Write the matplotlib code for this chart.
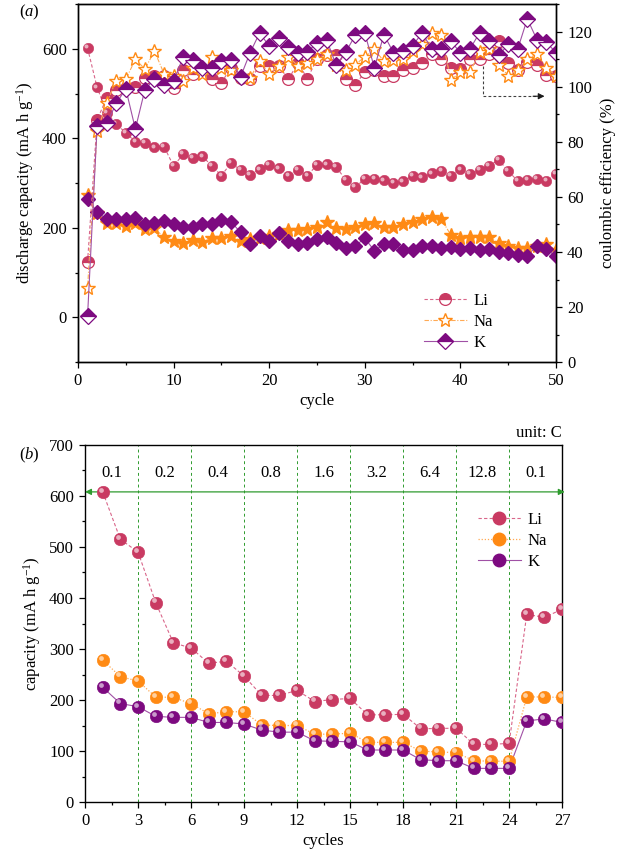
import numpy as np
import matplotlib
matplotlib.use('Agg')
import matplotlib.pyplot as plt
from matplotlib.transforms import offset_copy
from matplotlib.lines import Line2D
from matplotlib.ticker import MultipleLocator

plt.rcParams['font.family'] = ['Liberation Serif', 'DejaVu Serif']
plt.rcParams['mathtext.fontset'] = 'custom'
plt.rcParams['mathtext.rm'] = 'Liberation Serif'
plt.rcParams['mathtext.it'] = 'Liberation Serif:italic'
plt.rcParams['font.size'] = 12

# ---------------- data: panel (a) ----------------
cycles_a = list(range(1, 51))
li_dis = [602, 514, 458, 433, 412, 393, 390, 380, 382, 338, 365, 356, 360, 339, 317, 345, 330, 319, 331, 341,
          333, 317, 330, 317, 341, 342, 337, 307, 291, 310, 310, 306, 301, 304, 317, 313, 322, 327, 317, 331,
          321, 330, 339, 352, 327, 305, 307, 310, 305, 320]
na_dis = [274, 233, 212, 212, 204, 212, 197, 199, 179, 171, 166, 173, 168, 178, 178, 182, 171, 175, 178, 182,
          186, 195, 195, 197, 203, 214, 199, 197, 203, 209, 212, 201, 203, 209, 214, 219, 225, 220, 184, 177,
          179, 179, 179, 166, 160, 154, 154, 160, 164, 151]
k_dis = [265, 235, 220, 220, 220, 222, 209, 211, 216, 209, 203, 203, 209, 209, 218, 214, 190, 163, 181, 171,
         188, 171, 164, 166, 175, 180, 167, 154, 160, 177, 149, 163, 163, 151, 151, 160, 160, 154, 157, 152,
         155, 150, 152, 147, 143, 140, 138, 160, 152, 137]
li_ce = [36.4, 88, 96, 99, 99.5, 100, 103.3, 104, 104, 99.5, 106.3, 104.5, 105.7, 102.8, 101.5, 107, 103.3, 102.7, 107.5, 107.7,
         107.7, 102.7, 108.7, 103, 110.2, 111.4, 111.4, 103, 100.8, 105.3, 106, 103.9, 104, 106.3, 107, 108.7, 112, 110, 107, 106.5,
         110, 110, 112, 116.6, 108.7, 106.3, 109, 108, 104.2, 104]
na_ce = [27, 84, 94, 102.3, 102.7, 110, 106.5, 113, 104.8, 104, 102, 107, 104.8, 110.8, 107, 106, 104, 103.3, 109.3, 104.8,
         107.7, 110.9, 107.7, 108.7, 110.2, 112.1, 108, 106, 108.1, 110.9, 113.6, 109.3, 109.7, 110, 113, 115.4, 119.6, 118.8, 102.5, 105.3,
         105.3, 112.6, 113.6, 108.1, 104.1, 106, 110, 112.1, 107, 104]
k_ce = [16.8, 85.7, 86.7, 94, 99.3, 84.7, 99, 102.9, 100.8, 102, 110.9, 109.7, 106.9, 106.9, 109.3, 109.7, 103.6, 112.4, 119.6, 114.8,
        117.8, 114.5, 112.4, 112.7, 116, 117.2, 107.9, 112.6, 118.7, 119.6, 106.9, 119, 112.4, 112.9, 115, 119.6, 113.8, 113.8, 116.6, 112.4,
        113.8, 119.6, 116.6, 111.4, 115.4, 113.8, 124.7, 117.2, 116.2, 112.4]

# ---------------- data: panel (b) ----------------
cycles_b = list(range(1, 28))
li_rate = [608, 515, 490, 391, 312, 302, 272, 276, 247, 209, 209, 219, 197, 201, 203, 171, 171, 172,
           144, 144, 145, 113, 113, 115, 368, 362, 378]
na_rate = [278, 246, 237, 206, 205, 193, 173, 177, 177, 151, 150, 150, 133, 133, 135, 117, 117, 117,
           100, 98, 97, 81, 80, 80, 206, 206, 205]
k_rate = [225, 193, 187, 168, 166, 166, 156, 156, 153, 141, 137, 137, 120, 119, 118, 102, 102, 102,
          83, 81, 81, 66, 66, 66, 159, 163, 156]
rate_labels = ['0.1', '0.2', '0.4', '0.8', '1.6', '3.2', '6.4', '12.8', '0.1']
rate_bounds = [3, 6, 9, 12, 15, 18, 21, 24]

C_LI = '#C93A62'
C_NA = '#FF8A14'
C_K = '#7D0A80'
C_LI_L = '#D9668A'
C_NA_L = '#FFAA55'
C_K_L = '#A050A5'
GREEN = '#2E9B2E'

fig = plt.figure(figsize=(6.22, 8.60), dpi=100)
axA = fig.add_axes([0.1254, 0.579, 0.7685, 0.416])
axA2 = axA.twinx()
axB = fig.add_axes([0.1367, 0.0674, 0.767, 0.4152])


def sphere(ax, x, y, color, size, z=3):
    ax.plot(x, y, ls='none', marker='o', ms=size, mfc=color, mec=color, mew=0.4, zorder=z)
    tr = offset_copy(ax.transData, fig=fig, x=-size * 0.17, y=size * 0.17, units='points')
    ax.plot(x, y, ls='none', marker='o', ms=size * 0.38, mfc='white', mec='none', alpha=0.6,
            transform=tr, zorder=z + 0.1)


# ---------------- panel (a) ----------------
axA.plot(cycles_a, li_dis, ls=(0, (3, 2)), color=C_LI_L, lw=0.8, zorder=2)
axA.plot(cycles_a, na_dis, ls=(0, (4, 1.5, 1, 1.5)), color=C_NA_L, lw=0.8, zorder=2)
axA.plot(cycles_a, k_dis, ls='-', color=C_K_L, lw=0.8, zorder=2)
sphere(axA, cycles_a, li_dis, C_LI, 7.5)
axA.plot(cycles_a, na_dis, ls='none', marker='*', ms=10, mfc=C_NA, mec=C_NA, zorder=3)
axA.plot(cycles_a, k_dis, ls='none', marker='D', ms=7.5, mfc=C_K, mec=C_K, zorder=3)

axA2.plot(cycles_a, li_ce, ls=(0, (3, 2)), color=C_LI_L, lw=0.8, marker='o', ms=8.5, fillstyle='top',
          mfc=C_LI, mfcalt='white', mec=C_LI, mew=0.9)
axA2.plot(cycles_a, na_ce, ls=(0, (4, 1.5, 1, 1.5)), color=C_NA_L, lw=0.8, marker='*', ms=10.5,
          mfc='white', mec=C_NA, mew=1.0)
axA2.plot(cycles_a, k_ce, ls='-', color=C_K_L, lw=0.8, marker='D', ms=8.5, fillstyle='top',
          mfc=C_K, mfcalt='white', mec=C_K, mew=0.9)

# dashed arrow pointing to right axis
axA2.plot([42.4, 42.4, 48.0], [107.5, 96.6, 96.6], ls=(0, (2.5, 2)), color='0.25', lw=0.8)
axA2.annotate('', xy=(48.8, 96.6), xytext=(47.6, 96.6),
              arrowprops=dict(arrowstyle='-|>', color='0.1', lw=0.8, mutation_scale=9,
                              shrinkA=0, shrinkB=0))

axA.set_xlim(0, 50)
axA.set_ylim(-100, 700)
axA2.set_ylim(0, 130)
axA.set_xticks([0, 10, 20, 30, 40, 50])
axA.xaxis.set_minor_locator(MultipleLocator(5))
axA.set_yticks([0, 200, 400, 600])
axA.yaxis.set_minor_locator(MultipleLocator(100))
axA2.set_yticks([0, 20, 40, 60, 80, 100, 120])
axA2.yaxis.set_minor_locator(MultipleLocator(10))
for ax in (axA, axA2, axB):
    ax.tick_params(which='major', direction='out', length=4.5, width=0.9, labelsize=12)
    ax.tick_params(which='minor', direction='out', length=2.5, width=0.9)
    for s in ax.spines.values():
        s.set_linewidth(1.0)
axA.tick_params(axis='y', which='both', right=False)
axA.set_xlabel('cycle', fontsize=12, labelpad=3)
axA.set_ylabel('discharge capacity (mA h g$^{-1}$)', fontsize=12, labelpad=4)
axA2.set_ylabel('coulombic efficiency (%)', fontsize=12, labelpad=6)

legA = [Line2D([], [], ls=(0, (3, 2)), color=C_LI_L, lw=0.8, marker='o', ms=8.5, fillstyle='top',
               mfc=C_LI, mfcalt='white', mec=C_LI, mew=0.9),
        Line2D([], [], ls=(0, (4, 1.5, 1, 1.5)), color=C_NA_L, lw=0.8, marker='*', ms=10.5,
               mfc='white', mec=C_NA, mew=1.0),
        Line2D([], [], ls='-', color=C_K_L, lw=0.8, marker='D', ms=8.5, fillstyle='top',
               mfc=C_K, mfcalt='white', mec=C_K, mew=0.9)]
axA2.legend(legA, ['Li', 'Na', 'K'], loc='lower right', bbox_to_anchor=(0.90, -0.01), frameon=False,
            fontsize=12, handlelength=2.6, labelspacing=0.3, handletextpad=0.4)

fig.text(0.048, 0.986, r'($\mathit{a}$)', fontsize=12, ha='center', va='center')

# ---------------- panel (b) ----------------
for b in rate_bounds:
    axB.axvline(b, color=GREEN, ls=(0, (3, 3)), lw=0.7, zorder=1)
for i, lab in enumerate(rate_labels):
    axB.text(1.5 + 3 * i, 645, lab, ha='center', va='center', fontsize=12)
axB.annotate('', xy=(27.15, 608), xytext=(0.0, 608),
             arrowprops=dict(arrowstyle='<|-|>', color=GREEN, lw=0.9, mutation_scale=9,
                             shrinkA=0, shrinkB=0), annotation_clip=False)

axB.plot(cycles_b, li_rate, ls=(0, (3, 2)), color=C_LI_L, lw=0.8, zorder=2)
axB.plot(cycles_b, na_rate, ls=(0, (1, 1.5)), color=C_NA_L, lw=0.9, zorder=2)
axB.plot(cycles_b, k_rate, ls='-', color=C_K_L, lw=0.8, zorder=2)
sphere(axB, cycles_b, li_rate, C_LI, 9)
sphere(axB, cycles_b, na_rate, C_NA, 9)
sphere(axB, cycles_b, k_rate, C_K, 9)

axB.set_xlim(0, 27)
axB.set_ylim(0, 700)
axB.set_xticks(range(0, 28, 3))
axB.xaxis.set_minor_locator(MultipleLocator(1.5))
axB.set_yticks(range(0, 701, 100))
axB.yaxis.set_minor_locator(MultipleLocator(50))
axB.set_xlabel('cycles', fontsize=12, labelpad=3)
axB.set_ylabel('capacity (mA h g$^{-1}$)', fontsize=12, labelpad=4)
axB.text(1.0, 1.012, 'unit: C', transform=axB.transAxes, ha='right', va='bottom', fontsize=12)

legB = [Line2D([], [], ls=(0, (3, 2)), color=C_LI_L, lw=0.8, marker='o', ms=9, mfc=C_LI, mec=C_LI),
        Line2D([], [], ls=(0, (1, 1.5)), color=C_NA_L, lw=0.9, marker='o', ms=9, mfc=C_NA, mec=C_NA),
        Line2D([], [], ls='-', color=C_K_L, lw=0.8, marker='o', ms=9, mfc=C_K, mec=C_K)]
axB.legend(legB, ['Li', 'Na', 'K'], loc='upper right', bbox_to_anchor=(1.0, 0.855), frameon=False,
           fontsize=12, handlelength=2.6, labelspacing=0.3, handletextpad=0.4)

fig.text(0.048, 0.471, r'($\mathit{b}$)', fontsize=12, ha='center', va='center')

fig.savefig('out.png', dpi=100)
